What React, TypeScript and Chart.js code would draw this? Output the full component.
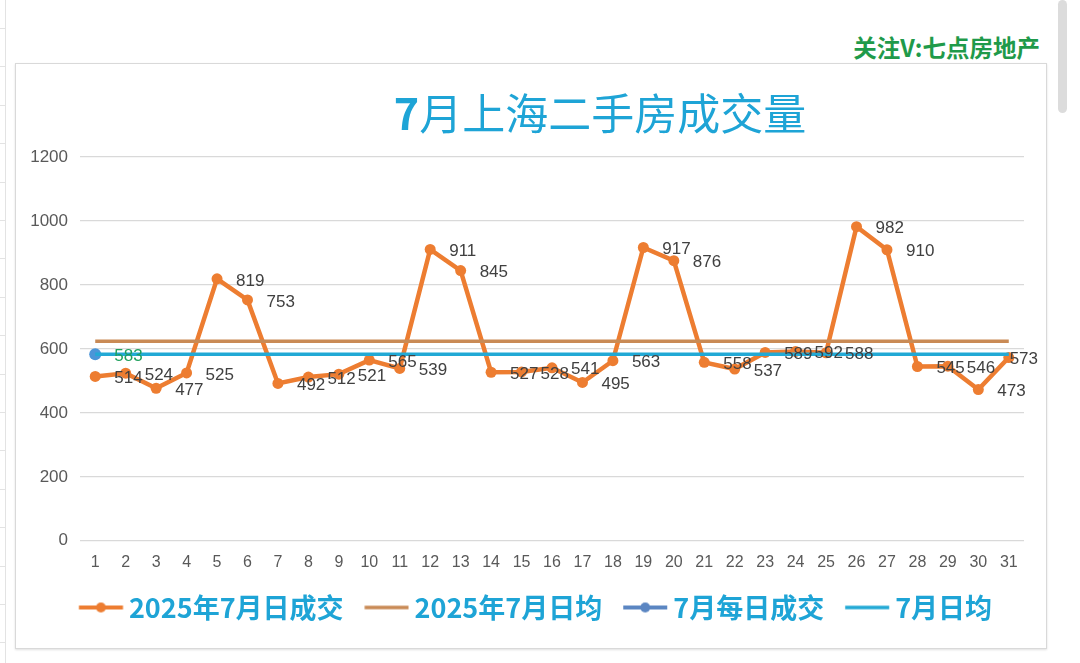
import React, { useEffect, useRef } from 'react';
import { Chart, registerables } from 'chart.js';

Chart.register(...registerables);

// ---- data ----
const DAYS = ['1','2','3','4','5','6','7','8','9','10','11','12','13','14','15','16','17','18','19','20','21','22','23','24','25','26','27','28','29','30','31'];
const DAILY_2025 = [514, 524, 477, 525, 819, 753, 492, 512, 521, 565, 539, 911, 845, 527, 528, 541, 495, 563, 917, 876, 558, 537, 589, 592, 588, 982, 910, 545, 546, 473, 573];
const AVG_2025 = 624;
const JULY_DAILY = [583];
const JULY_AVG = 583;
const Y_MIN = 0;
const Y_MAX = 1200;
const Y_STEP = 200;
const TITLE_NUM = '7';
const TITLE_REST = '月上海二手房成交量';
const WATERMARK = '关注V:七点房地产';
const SERIES_NAMES = ['2025年7月日成交', '2025年7月日均', '7月每日成交', '7月日均'];
const SHEET_ROWS = [0, 1, 2, 3, 4, 5, 6, 7, 8, 9, 10, 11, 12, 13, 14, 15, 16, 17];

const ORANGE = '#ed7d31';
const BROWN = '#c98a55';
const BLUE = '#4b95d8';
const BLUE_LEGEND = '#5b86c2';
const CYAN = '#22a9d5';
const TEXT_CYAN = '#1ea4d6';
const LABEL_GRAY = '#404040';
const LABEL_GREEN = '#1f9f5c';

function makeMarker(color: string, lineW: number, dotR: number): HTMLCanvasElement {
  const c = document.createElement('canvas');
  c.width = 56;
  c.height = 14;
  const ctx = c.getContext('2d')!;
  const L = 11.25;
  ctx.strokeStyle = color;
  ctx.lineWidth = lineW;
  ctx.lineCap = 'butt';
  ctx.beginPath();
  ctx.moveTo(L, 7);
  ctx.lineTo(L + 44, 7);
  ctx.stroke();
  if (dotR > 0) {
    ctx.fillStyle = color;
    ctx.beginPath();
    ctx.arc(L + 22, 7, dotR, 0, Math.PI * 2);
    ctx.fill();
  }
  return c;
}

const pointLabelPlugin = {
  id: 'pointLabels',
  afterDatasetsDraw(chart: any) {
    const ctx = chart.ctx;
    const specs = [
      { index: 0, color: LABEL_GRAY },
      { index: 2, color: LABEL_GREEN },
    ];
    ctx.save();
    ctx.font = '17px "Liberation Sans", Arial, sans-serif';
    ctx.textAlign = 'left';
    ctx.textBaseline = 'middle';
    specs.forEach(({ index, color }) => {
      const meta = chart.getDatasetMeta(index);
      const values = chart.data.datasets[index].data;
      ctx.fillStyle = color;
      meta.data.forEach((pt: any, i: number) => {
        const v = values[i];
        if (v === null || v === undefined) return;
        const text = String(v);
        const w = ctx.measureText(text).width;
        const x = Math.min(pt.x + 19, chart.width - 8 - w);
        ctx.fillText(text, x, pt.y + 2);
      });
    });
    ctx.restore();
  },
};

// nudges the legend row a little to the right, as in the reference
const legendShiftPlugin = {
  id: 'legendShift',
  afterLayout(chart: any) {
    if (chart.legend) {
      chart.legend.left += 8;
      chart.legend.right += 8;
    }
  },
};

function ChartView() {
  const ref = useRef<HTMLCanvasElement | null>(null);

  useEffect(() => {
    if (!ref.current) return;
    const markers = [
      makeMarker(ORANGE, 4, 5),
      makeMarker(BROWN, 3.5, 0),
      makeMarker(BLUE_LEGEND, 4, 5),
      makeMarker(CYAN, 3.5, 0),
    ];
    const julyDaily = DAYS.map((_, i) => (i < JULY_DAILY.length ? JULY_DAILY[i] : null));
    const chart = new Chart(ref.current, {
      type: 'line',
      data: {
        labels: DAYS,
        datasets: [
          {
            label: SERIES_NAMES[0],
            data: DAILY_2025,
            borderColor: ORANGE,
            backgroundColor: ORANGE,
            borderWidth: 4.5,
            pointRadius: 5.5,
            pointBorderWidth: 0,
            pointBackgroundColor: ORANGE,
            tension: 0,
            order: 3,
          },
          {
            label: SERIES_NAMES[1],
            data: DAYS.map(() => AVG_2025),
            borderColor: BROWN,
            backgroundColor: BROWN,
            borderWidth: 3.5,
            pointRadius: 0,
            order: 2,
          },
          {
            label: SERIES_NAMES[2],
            data: julyDaily,
            borderColor: BLUE,
            backgroundColor: BLUE,
            borderWidth: 4,
            pointRadius: 6,
            pointBorderWidth: 0,
            pointBackgroundColor: BLUE,
            showLine: false,
            order: 1,
          },
          {
            label: SERIES_NAMES[3],
            data: DAYS.map(() => JULY_AVG),
            borderColor: CYAN,
            backgroundColor: CYAN,
            borderWidth: 3.5,
            pointRadius: 0,
            order: 0,
          },
        ] as any,
      },
      options: {
        animation: false,
        responsive: false,
        maintainAspectRatio: false,
        layout: { padding: { left: 12, right: 22, top: 93, bottom: 17 } },
        scales: {
          x: {
            offset: true,
            grid: { display: false },
            border: { display: false },
            ticks: {
              color: '#595959',
              padding: 4,
              maxRotation: 0,
              autoSkip: false,
              font: { family: '"Liberation Sans", Arial, sans-serif', size: 16 },
            },
          },
          y: {
            min: Y_MIN,
            max: Y_MAX,
            afterFit: (s: any) => {
              s.width = 52;
            },
            grid: { color: '#d9d9d9', lineWidth: 1.3, drawTicks: false },
            border: { display: false },
            ticks: {
              stepSize: Y_STEP,
              color: '#595959',
              padding: 12,
              callback: (v: any) => String(v),
              font: { family: '"Liberation Sans", Arial, sans-serif', size: 17 },
            },
          },
        },
        plugins: {
          title: { display: false },
          legend: {
            position: 'bottom',
            labels: {
              usePointStyle: true,
              pointStyleWidth: 39.5,
              padding: 18,
              color: TEXT_CYAN,
              font: { family: '"Noto Sans CJK SC", sans-serif', size: 27, weight: 'bold' },
              generateLabels: (c: any) =>
                c.data.datasets.map((ds: any, i: number) => ({
                  text: ds.label,
                  fillStyle: ds.borderColor,
                  strokeStyle: ds.borderColor,
                  lineWidth: 0,
                  pointStyle: markers[i],
                  hidden: false,
                  datasetIndex: i,
                  fontColor: TEXT_CYAN,
                })),
            },
          },
          tooltip: { enabled: false },
        },
      } as any,
      plugins: [pointLabelPlugin, legendShiftPlugin],
    });
    return () => chart.destroy();
  }, []);

  return <canvas ref={ref} width={1030} height={584} style={{ display: 'block', width: 1030, height: 584 }} />;
}

export default function App() {
  useEffect(() => {
    document.body.style.margin = '0';
  }, []);
  return (
    <div style={{ position: 'fixed', left: 0, top: 0, width: 1080, height: 663, background: '#ffffff', overflow: 'hidden' }}>
      {/* spreadsheet edge on the left */}
      <div style={{ position: 'absolute', left: 5, top: 0, width: 1, height: 663, background: '#e3e3e3' }} />
      {SHEET_ROWS.map((r) => (
        <div key={r} style={{ position: 'absolute', left: 0, top: 28 + r * 38.4, width: 5, height: 1, background: '#e3e3e3' }} />
      ))}
      {/* scrollbar */}
      <div style={{ position: 'absolute', left: 1058, top: 0, width: 9, height: 113, background: '#dcdcdc', borderRadius: 5 }} />
      {/* watermark */}
      <div
        style={{
          position: 'absolute',
          right: 40,
          top: 33,
          color: '#1f9a4a',
          fontFamily: '"Noto Sans CJK SC", sans-serif',
          fontWeight: 'bold',
          fontSize: 23.5,
          lineHeight: '28px',
          whiteSpace: 'nowrap',
        }}
      >
        {WATERMARK}
      </div>
      {/* chart box */}
      <div
        style={{
          position: 'absolute',
          left: 15,
          top: 63,
          width: 1030,
          height: 584,
          border: '1px solid #d9d9d9',
          boxShadow: '0 1px 2px rgba(0,0,0,0.12)',
          background: '#ffffff',
        }}
      >
        <ChartView />
      </div>
      {/* chart title */}
      <div
        style={{
          position: 'absolute',
          left: 600,
          top: 86,
          transform: 'translateX(-50%)',
          color: TEXT_CYAN,
          fontFamily: '"Noto Sans CJK SC", sans-serif',
          fontSize: 43,
          lineHeight: '50px',
          whiteSpace: 'nowrap',
        }}
      >
        <span style={{ fontWeight: 'bold' }}>{TITLE_NUM}</span>
        <span style={{ fontWeight: 'normal' }}>{TITLE_REST}</span>
      </div>
    </div>
  );
}
